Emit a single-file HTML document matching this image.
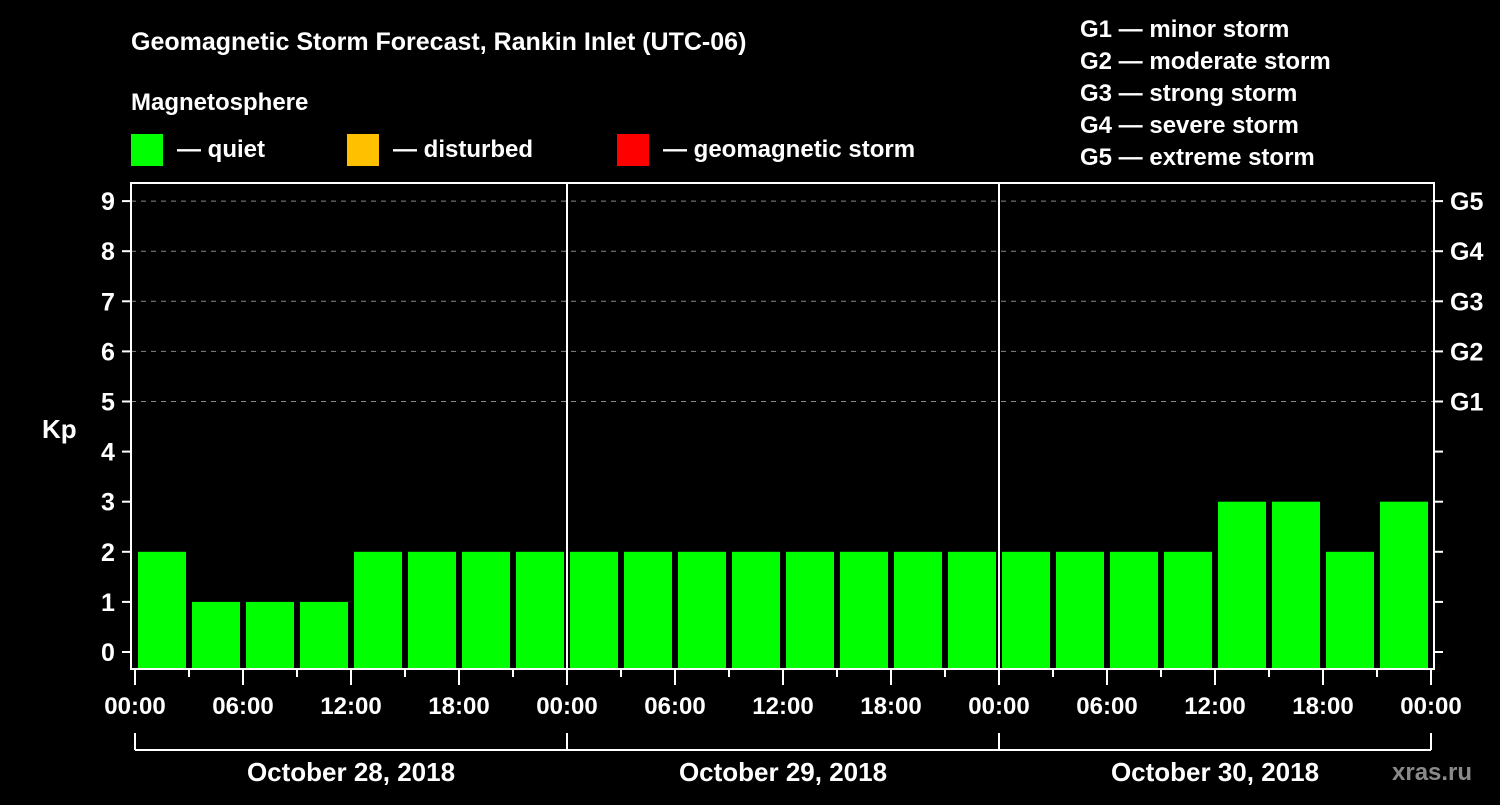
<!DOCTYPE html>
<html><head><meta charset="utf-8"><style>
body{margin:0;background:#000;width:1500px;height:800px;overflow:hidden;font-family:"Liberation Sans",sans-serif;font-weight:bold;color:#fff}
svg text{font-family:"Liberation Sans",sans-serif;font-weight:bold;fill:#fff}
</style></head><body>
<svg id="chart" width="1500" height="800" xmlns="http://www.w3.org/2000/svg">
<text x="131" y="50" font-size="25">Geomagnetic Storm Forecast, Rankin Inlet (UTC-06)</text>
<text x="131" y="110" font-size="24">Magnetosphere</text>
<g><rect x="131" y="134" width="32" height="32" fill="#00ff00"/><text x="177" y="157" font-size="24">— quiet</text></g>
<g><rect x="347" y="134" width="32" height="32" fill="#ffc000"/><text x="393" y="157" font-size="24">— disturbed</text></g>
<g><rect x="617" y="134" width="32" height="32" fill="#ff0000"/><text x="663" y="157" font-size="24">— geomagnetic storm</text></g>
<g font-size="24">
<text x="1080" y="37">G1 — minor storm</text>
<text x="1080" y="69">G2 — moderate storm</text>
<text x="1080" y="101">G3 — strong storm</text>
<text x="1080" y="133">G4 — severe storm</text>
<text x="1080" y="165">G5 — extreme storm</text>
</g>
<text x="42" y="438" font-size="26">Kp</text>
<g id="grid"></g><g id="bars"></g><g id="axes"></g>
<text x="1392" y="780" font-size="24" fill="#888" style="fill:#8a8a8a">xras.ru</text>
</svg>
<script>
const kpValues=[2,1,1,1,2,2,2,2, 2,2,2,2,2,2,2,2, 2,2,2,2,3,3,2,3];
const days=["October 28, 2018","October 29, 2018","October 30, 2018"];
const hourLabels=["00:00","06:00","12:00","18:00"];
const yTicks=[0,1,2,3,4,5,6,7,8,9];
const gLabels=["G1","G2","G3","G4","G5"];
const NS="http://www.w3.org/2000/svg";
const x0=135,dayW=432,plotL=131,plotR=1434,plotT=183,plotB=669;
const y=v=>652-v*50.1;
const xh=h=>x0+h*dayW/24;
function mk(t,a,p){const e=document.createElementNS(NS,t);for(const k in a)e.setAttribute(k,a[k]);p.appendChild(e);return e;}
const grid=document.getElementById('grid'),bars=document.getElementById('bars'),axes=document.getElementById('axes');
for(let v=5;v<=9;v++){const l=mk('line',{x1:plotL,x2:plotR,y1:y(v),y2:y(v),stroke:'#888','stroke-dasharray':'5,5','stroke-width':1},grid);

}
kpValues.forEach((v,i)=>{const c=v>=5?'#ff0000':(v>=4?'#ffc000':'#00ff00');
const r=mk('rect',{x:xh(i*3)+3,y:y(v),width:48,height:plotB-y(v),fill:c},bars);

});
const fr=mk('rect',{x:plotL,y:plotT,width:plotR-plotL,height:plotB-plotT,fill:'none',stroke:'#fff','stroke-width':2},axes);


for(let d=1;d<days.length;d++){const l=mk('line',{x1:x0+d*dayW,x2:x0+d*dayW,y1:plotT,y2:plotB,stroke:'#fff','stroke-width':2},axes);

}
yTicks.forEach(v=>{mk('line',{x1:122,x2:plotL,y1:y(v),y2:y(v),stroke:'#fff','stroke-width':2},axes);
mk('line',{x1:plotR,x2:1443,y1:y(v),y2:y(v),stroke:'#fff','stroke-width':2},axes);
const t=mk('text',{x:108,y:y(v)+9,'font-size':25,'text-anchor':'middle'},axes);t.textContent=v;

});
gLabels.forEach((g,i)=>{const t=mk('text',{x:1450,y:y(5+i)+9,'font-size':25},axes);t.textContent=g;

});
for(let h=0;h<=72;h+=3){const major=h%6==0;mk('line',{x1:xh(h),x2:xh(h),y1:plotB,y2:major?685:677,stroke:'#fff','stroke-width':2},axes);
if(major){const t=mk('text',{x:xh(h),y:714,'font-size':24,'text-anchor':'middle'},axes);t.textContent=hourLabels[(h/6)%4];

}}
mk('line',{x1:x0,x2:x0+3*dayW,y1:750,y2:750,stroke:'#fff','stroke-width':2},axes);
for(let d=0;d<=days.length;d++)mk('line',{x1:x0+d*dayW,x2:x0+d*dayW,y1:733,y2:750,stroke:'#fff','stroke-width':2},axes);
days.forEach((d,i)=>{const t=mk('text',{x:x0+(i+0.5)*dayW,y:781,'font-size':26,'text-anchor':'middle'},axes);t.textContent=d;

});
</script>
</body></html>
